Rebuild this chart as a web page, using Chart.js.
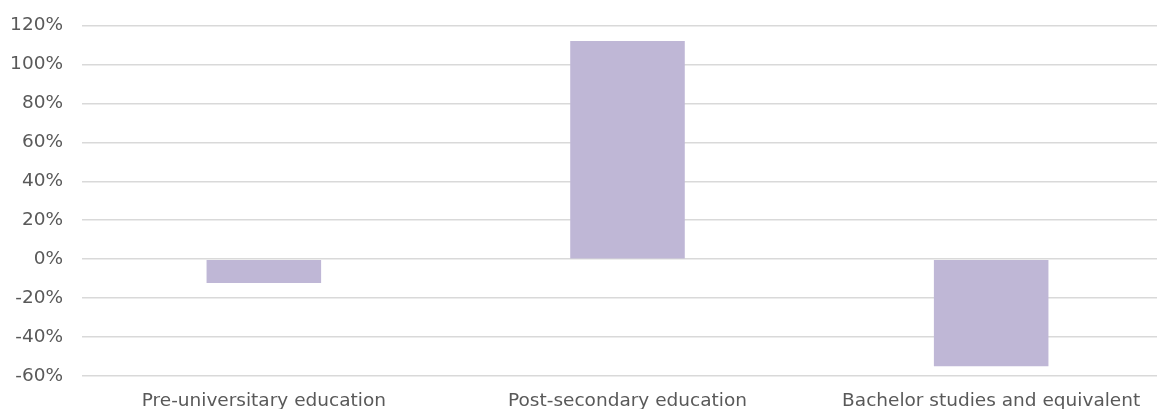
<!DOCTYPE html>
<html>
<head>
<meta charset="utf-8">
<script src="https://cdn.jsdelivr.net/npm/chart.js@4/dist/chart.umd.min.js"></script>
<style>
  html, body { margin: 0; padding: 0; background: #ffffff; overflow: hidden; }
  #wrap { width: 1157px; height: 409px; overflow: hidden; position: relative; }
  #box { position: absolute; left: 0; top: 0; width: 1173px; height: 420px; }
</style>
</head>
<body>
<div id="wrap"><div id="box"><canvas id="c"></canvas></div></div>
<script>
const categories = ["Pre-universitary education", "Post-secondary education", "Bachelor studies and equivalent"];
const values = [-12.3, 112, -55];
const yTicks = [-60, -40, -20, 0, 20, 40, 60, 80, 100, 120];

const textColor = '#595959';
const fontFamily = '"DejaVu Sans", Verdana, sans-serif';

new Chart(document.getElementById('c'), {
  type: 'bar',
  data: {
    labels: categories,
    datasets: [{
      data: values,
      backgroundColor: '#bfb7d6',
      borderWidth: 0,
      barPercentage: 0.63,
      categoryPercentage: 0.5
    }]
  },
  options: {
    responsive: true,
    maintainAspectRatio: false,
    animation: false,
    layout: { padding: { top: 25.5, right: 0, bottom: 0, left: 0 } },
    plugins: { legend: { display: false }, tooltip: { enabled: false } },
    scales: {
      x: {
        grid: { display: false, drawTicks: false },
        border: { display: false },
        ticks: { color: textColor, font: { family: fontFamily, size: 18.5 }, padding: 14, maxRotation: 0, autoSkip: false },
        afterFit: (s) => { s.height = 44; s.paddingTop = 0; s.paddingBottom = 0; s.paddingLeft = 0; s.paddingRight = 0; }
      },
      y: {
        min: -60, max: 120,
        afterBuildTicks: (s) => { s.ticks = yTicks.map(v => ({ value: v })); },
        grid: { color: '#d9d9d9', lineWidth: 1.5, drawTicks: false },
        border: { display: false },
        ticks: { color: textColor, font: { family: fontFamily, size: 18.5 }, padding: 19, callback: (v) => v + '%' },
        afterFit: (s) => { s.width = 82; s.paddingTop = 0; s.paddingBottom = 0; s.paddingLeft = 0; s.paddingRight = 0; }
      }
    }
  }
});
</script>
</body>
</html>
